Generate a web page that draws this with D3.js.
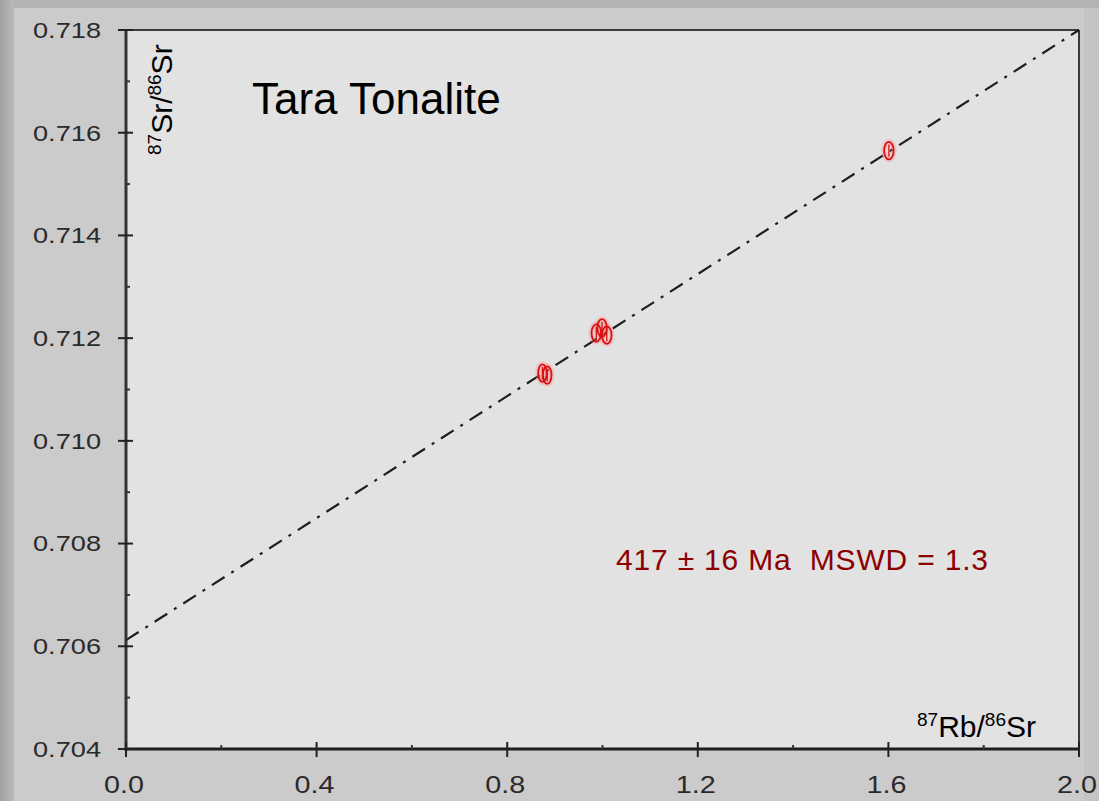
<!DOCTYPE html>
<html><head><meta charset="utf-8">
<script src="https://cdn.jsdelivr.net/npm/d3@7"></script>
<style>html,body{margin:0;padding:0;background:#b8b8b8;overflow:hidden}svg{display:block}text{font-family:"Liberation Sans",Arial,sans-serif}</style>
</head><body>
<svg id="chart" width="1099" height="801"></svg>
<script>
// ---- data ----
const rbSr = [0.874, 0.884, 0.987, 0.999, 1.009, 1.601];
const srSr = [0.71132, 0.71128, 0.71210, 0.71220, 0.71206, 0.71565];
const errX = [0.009, 0.009, 0.010, 0.010, 0.010, 0.010];
const errY = [0.000170, 0.000170, 0.000170, 0.000170, 0.000170, 0.000170];
const isoX = [0.0, 2.0];
const isoY = [0.70612, 0.71800];
const xTicks = [0.0, 0.4, 0.8, 1.2, 1.6, 2.0];
const xMinor = [0.2, 0.6, 1.0, 1.4, 1.8];
const yTicks = [0.704, 0.706, 0.708, 0.710, 0.712, 0.714, 0.716, 0.718];
const yMinor = [0.705, 0.707, 0.709, 0.711, 0.713, 0.715, 0.717];
const title = "Tara Tonalite";
const ageText = "417 \u00B1 16 Ma  MSWD = 1.3";

const svg = d3.select("#chart");
const L = 126, R = 1079, T = 30, B = 749;
const x = d3.scaleLinear().domain([0, 2.0]).range([L, R]);
const y = d3.scaleLinear().domain([0.704, 0.718]).range([B, T]);

// backgrounds
const defs = svg.append("defs");
const g1 = defs.append("linearGradient").attr("id","lstrip").attr("x1","0").attr("x2","1").attr("y1","0").attr("y2","0");
g1.append("stop").attr("offset","0").attr("stop-color","#a0a0a0");
g1.append("stop").attr("offset","1").attr("stop-color","#bbbbbb");
svg.append("rect").attr("x",0).attr("y",0).attr("width",1099).attr("height",801).attr("fill","#b3b3b3");
svg.append("rect").attr("x",14).attr("y",8).attr("width",1085).attr("height",793).attr("fill","#cbcbcb");
svg.append("rect").attr("x",0).attr("y",0).attr("width",14).attr("height",801).attr("fill","url(#lstrip)");
svg.append("rect").attr("x",1084).attr("y",8).attr("width",15).attr("height",793).attr("fill","#c4c4c4");
svg.append("rect").attr("x",L).attr("y",T).attr("width",R-L).attr("height",B-T).attr("fill","#e2e2e2");

// frame top/right
svg.append("line").attr("x1",L).attr("x2",R).attr("y1",T).attr("y2",T).attr("stroke","#3a3a3a").attr("stroke-width",2);
svg.append("line").attr("x1",R).attr("x2",R).attr("y1",T).attr("y2",B).attr("stroke","#3a3a3a").attr("stroke-width",2);

// isochron
svg.append("line")
  .attr("x1",x(isoX[0])).attr("y1",y(isoY[0]))
  .attr("x2",x(isoX[1])).attr("y2",y(isoY[1]))
  .attr("stroke","#1e1e1e").attr("stroke-width",2.2)
  .attr("stroke-dasharray","15,8,3,8");

// points as error ellipses
const pts = rbSr.map((v,i)=>({x:v,y:srSr[i],ex:errX[i],ey:errY[i]}));
const pg = svg.append("g");
pg.selectAll("ellipse.halo").data(pts).join("ellipse").attr("class","halo")
  .attr("cx",d=>x(d.x)).attr("cy",d=>y(d.y))
  .attr("rx",d=>x(d.ex)-x(0)).attr("ry",d=>y(0.704)-y(0.704+d.ey))
  .attr("fill","none").attr("stroke","#ff8080").attr("stroke-opacity",0.3).attr("stroke-width",6);
pg.selectAll("ellipse.e").data(pts).join("ellipse").attr("class","e")
  .attr("cx",d=>x(d.x)).attr("cy",d=>y(d.y))
  .attr("rx",d=>x(d.ex)-x(0)).attr("ry",d=>y(0.704)-y(0.704+d.ey))
  .attr("fill","none").attr("stroke","#d81010").attr("stroke-width",1.8);
pg.selectAll("line.v").data(pts).join("line").attr("class","v")
  .attr("x1",d=>x(d.x)).attr("x2",d=>x(d.x))
  .attr("y1",d=>y(d.y+d.ey*0.7)).attr("y2",d=>y(d.y-d.ey*0.7))
  .attr("stroke","#d81010").attr("stroke-width",1.3);

// axes lines
svg.append("line").attr("x1",L).attr("x2",L).attr("y1",T).attr("y2",B+2).attr("stroke","#333").attr("stroke-width",3);
svg.append("line").attr("x1",L-1).attr("x2",R+1).attr("y1",B).attr("y2",B).attr("stroke","#1e1e1e").attr("stroke-width",3);

// y ticks
svg.selectAll("line.yt").data(yTicks).join("line").attr("class","yt")
  .attr("x1",L-8).attr("x2",L+7).attr("y1",d=>y(d)).attr("y2",d=>y(d))
  .attr("stroke","#222").attr("stroke-width",2);
svg.selectAll("line.ym").data(yMinor).join("line").attr("class","ym")
  .attr("x1",L).attr("x2",L+4).attr("y1",d=>y(d)).attr("y2",d=>y(d))
  .attr("stroke","#333").attr("stroke-width",2);
svg.selectAll("text.yl").data(yTicks).join("text").attr("class","yl")
  .attr("x",101).attr("y",d=>y(d)).attr("dy","0.36em")
  .attr("text-anchor","end").attr("font-size",22).attr("fill","#2a2a2a")
  .attr("textLength",68).attr("lengthAdjust","spacingAndGlyphs")
  .text(d=>d3.format(".3f")(d));

// x ticks
svg.selectAll("line.xt").data(xTicks).join("line").attr("class","xt")
  .attr("x1",d=>x(d)).attr("x2",d=>x(d)).attr("y1",B-7).attr("y2",B+8)
  .attr("stroke","#222").attr("stroke-width",2);
svg.selectAll("line.xm").data(xMinor).join("line").attr("class","xm")
  .attr("x1",d=>x(d)).attr("x2",d=>x(d)).attr("y1",B-4).attr("y2",B)
  .attr("stroke","#333").attr("stroke-width",2);
svg.selectAll("text.xl").data(xTicks).join("text").attr("class","xl")
  .attr("x",d=>x(d)-2).attr("y",793)
  .attr("text-anchor","middle").attr("font-size",24).attr("fill","#2a2a2a")
  .attr("textLength",40).attr("lengthAdjust","spacingAndGlyphs")
  .text(d=>d3.format(".1f")(d));

// axis titles
const yt = svg.append("text").attr("transform","translate(172,155) rotate(-90)")
  .attr("font-size",30).attr("fill","#000");
yt.append("tspan").attr("font-size",19).attr("dy",-11).text("87");
yt.append("tspan").attr("dy",11).text("Sr/");
yt.append("tspan").attr("font-size",19).attr("dy",-11).text("86");
yt.append("tspan").attr("dy",11).text("Sr");

const xt = svg.append("text").attr("x",917).attr("y",737)
  .attr("font-size",30).attr("fill","#000");
xt.append("tspan").attr("font-size",19).attr("dy",-11).text("87");
xt.append("tspan").attr("dy",11).text("Rb/");
xt.append("tspan").attr("font-size",19).attr("dy",-11).text("86");
xt.append("tspan").attr("dy",11).text("Sr");

// title and annotation
svg.append("text").attr("x",252).attr("y",114).attr("font-size",44).attr("fill","#000").text(title);
svg.append("text").attr("x",616).attr("y",570).attr("font-size",30).attr("fill","#8b0000")
  .style("white-space","pre")
  .attr("textLength",372).attr("lengthAdjust","spacing").text(ageText);
</script>
</body></html>
